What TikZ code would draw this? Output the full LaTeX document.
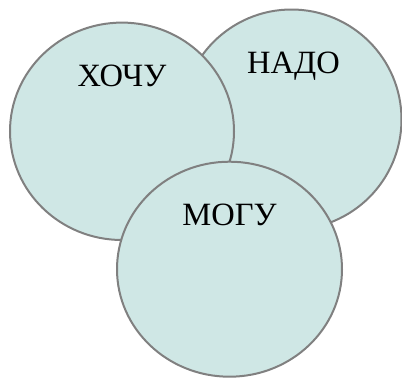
\documentclass[tikz,border=0pt]{standalone}
\usepackage{fontspec}
\setmainfont{Liberation Serif}
\definecolor{circfill}{RGB}{207,231,229}
\definecolor{circline}{RGB}{128,128,128}
\tikzset{
  venn/.style={fill=circfill, draw=circline, line width=2pt},
  lbl/.style={anchor=base, inner sep=0pt, font=\fontsize{32.5}{32.5}\selectfont, text=black}
}
\begin{document}
\begin{tikzpicture}[x=1pt,y=-1pt]
\useasboundingbox (0,0) rectangle (402,378);
% НАДО (behind)
\draw[venn] (291.5,119.5) ellipse [x radius=110pt, y radius=110pt];
% ХОЧУ
\draw[venn] (122,131.3) ellipse [x radius=112pt, y radius=108.7pt];
% МОГУ (front)
\draw[venn] (229.5,269.2) ellipse [x radius=112.5pt, y radius=107.5pt];
\node[lbl] (hochu) at (122,86) {ХОЧУ};
\node[lbl] (nado) at (293.5,73) {НАДО};
\node[lbl] (mogu) at (229.5,225) {МОГУ};
\end{tikzpicture}
\end{document}
